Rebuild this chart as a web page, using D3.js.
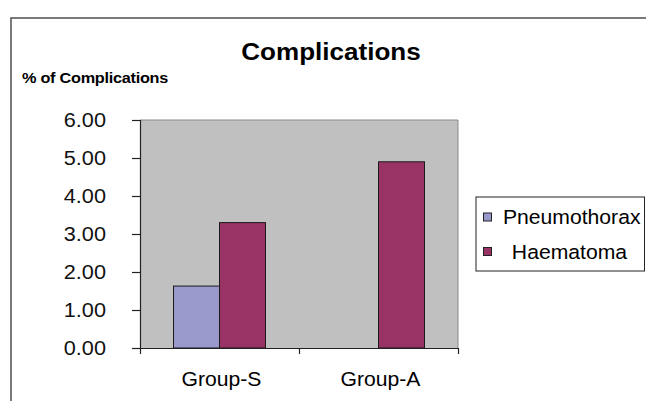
<!DOCTYPE html>
<html>
<head>
<meta charset="utf-8">
<script src="https://cdn.jsdelivr.net/npm/d3@7"></script>
<style>
  html, body { margin: 0; padding: 0; background: #ffffff; }
  svg { display: block; font-family: "Liberation Sans", Arial, sans-serif; }
</style>
</head>
<body>
<svg id="chart" width="646" height="401"></svg>
<script>
// Chart data
const groups = ["Group-S", "Group-A"];
const seriesNames = ["Pneumothorax", "Haematoma"];
const pneumothorax = [1.63, 0];
const haematoma = [3.3, 4.9];
const yTicks = [0, 1, 2, 3, 4, 5, 6];
const titleText = "Complications";
const yAxisTitle = "% of Complications";

const seriesValues = [pneumothorax, haematoma];
const colors = ["#9999cc", "#993366"];

const svg = d3.select("#chart");
const plot = { left: 140, right: 458, top: 120, bottom: 348 };
const stretch = 1.085; // horizontal glyph stretch

// text helper: places text with a slight horizontal stretch
function addText(parent, x, y, str, opts) {
  const g = parent.append("g").attr("transform", `translate(${x},${y}) scale(${stretch},1)`);
  const t = g.append("text")
    .attr("x", 0).attr("y", 0)
    .attr("text-anchor", opts.anchor || "start")
    .attr("font-size", opts.size)
    .attr("font-weight", opts.weight || "normal")
    .attr("fill", opts.fill || "#000")
    .text(str);
  if (opts.spacing) t.attr("letter-spacing", opts.spacing);
  return t;
}

// Outer chart frame
svg.append("rect")
  .attr("x", 11).attr("y", 18)
  .attr("width", 700).attr("height", 500)
  .attr("fill", "none").attr("stroke", "#5a5a5a").attr("stroke-width", 1.6);

// Scales
const x0 = d3.scaleBand().domain(groups).range([plot.left, plot.right])
  .paddingInner(0.4214).paddingOuter(0.2107);
const x1 = d3.scaleBand().domain(seriesNames).range([0, x0.bandwidth()]);
const y = d3.scaleLinear().domain([0, 6]).range([plot.bottom, plot.top]);

// Plot area
svg.append("rect")
  .attr("x", plot.left).attr("y", plot.top)
  .attr("width", plot.right - plot.left).attr("height", plot.bottom - plot.top)
  .attr("fill", "#c0c0c0");
svg.append("path")
  .attr("d", `M${plot.left},${plot.top}H${plot.right}V${plot.bottom}`)
  .attr("fill", "none").attr("stroke", "#8a8a8a").attr("stroke-width", 1);

// Bars
const barData = [];
groups.forEach((g, gi) => {
  seriesNames.forEach((s, si) => {
    barData.push({ group: g, series: s, value: seriesValues[si][gi], color: colors[si] });
  });
});
svg.append("g").selectAll("rect")
  .data(barData.filter(d => d.value > 0))
  .join("rect")
  .attr("x", d => x0(d.group) + x1(d.series))
  .attr("y", d => y(d.value))
  .attr("width", x1.bandwidth())
  .attr("height", d => y(0) - y(d.value))
  .attr("fill", d => d.color)
  .attr("stroke", "#1a1a1a").attr("stroke-width", 1);

// Y axis
const yAxis = svg.append("g")
  .attr("transform", `translate(${plot.left},0)`)
  .call(d3.axisLeft(y).tickValues(yTicks).tickSize(8).tickFormat(""));
yAxis.select(".domain").attr("stroke", "#222").attr("stroke-width", 1.2);
yAxis.selectAll(".tick line").attr("stroke", "#222").attr("stroke-width", 1.2);
yTicks.forEach(v => {
  addText(svg, 106, y(v) + 7, d3.format(".2f")(v), { size: 20, anchor: "end", fill: "#111" });
});

// X axis (category boundaries as ticks)
const xAxisScale = d3.scaleLinear().domain([0, groups.length]).range([plot.left, plot.right]);
const xAxis = svg.append("g")
  .attr("transform", `translate(0,${plot.bottom})`)
  .call(d3.axisBottom(xAxisScale).tickValues(d3.range(groups.length + 1)).tickSize(6).tickSizeOuter(0).tickFormat(""));
xAxis.select(".domain").attr("stroke", "#222").attr("stroke-width", 1.2);
xAxis.selectAll(".tick line").attr("stroke", "#222").attr("stroke-width", 1.2);
groups.forEach(g => {
  addText(svg, x0(g) + x0.bandwidth() / 2 + 2, 386, g, { size: 19.5, anchor: "middle" });
});

// Titles
addText(svg, 331, 60, titleText, { size: 24, weight: "bold", anchor: "middle" });
addText(svg, 22, 83, yAxisTitle, { size: 15, weight: "bold", spacing: -0.25 });

// Legend
const legend = svg.append("g");
legend.append("rect")
  .attr("x", 476).attr("y", 197).attr("width", 168.5).attr("height", 74)
  .attr("fill", "#fff").attr("stroke", "#222").attr("stroke-width", 1);
const legendRows = [
  { name: seriesNames[0], color: colors[0], cy: 217, tx: 503 },
  { name: " " + seriesNames[1], color: colors[1], cy: 251.5, tx: 506 }
];
legendRows.forEach(r => {
  legend.append("rect")
    .attr("x", 483.5).attr("y", r.cy - 4).attr("width", 8).attr("height", 8)
    .attr("fill", r.color).attr("stroke", "#222").attr("stroke-width", 1);
  addText(legend, r.tx, r.cy + 7, r.name, { size: 19.5 }).attr("xml:space", "preserve").style("white-space", "pre");
});
</script>
</body>
</html>
